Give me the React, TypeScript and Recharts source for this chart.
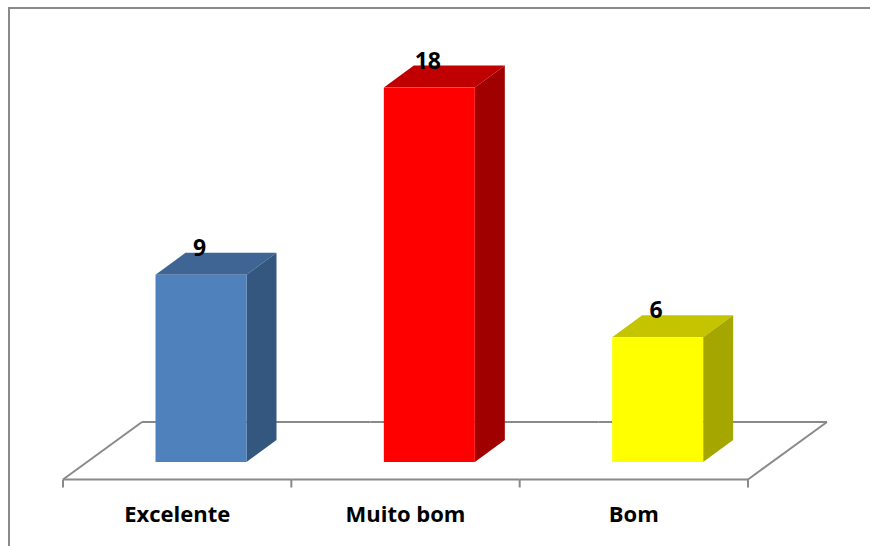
import React from "react";
import { BarChart, Bar, XAxis, YAxis, LabelList } from "recharts";

// Ratings and how many answers each one received
const categories = ["Excelente", "Muito bom", "Bom"];
const counts = [9, 18, 6];

const data = categories.map((name, i) => ({ name, value: counts[i] }));

// front / top / side shades for each box
const faceColors = [
  { front: "#4F81BD", top: "#3E6593", side: "#33577F" },
  { front: "#FF0000", top: "#C00000", side: "#A00000" },
  { front: "#FFFF00", top: "#C4C400", side: "#A6A600" },
];

const FONT = "'Open Sans', 'DejaVu Sans', sans-serif";
const LINE = "#8A8A8A";

const W = 870;
const H = 546;
const MARGIN = { top: 46, right: 122, bottom: 24, left: 63 };
const AXIS_H = 60;

// box depth in pixels and bar offset towards the middle of the floor
const DEPTH_X = 30;
const DEPTH_Y = -22;
const SHIFT_X = 23.5;

// floor depth
const FLOOR_X = 79;
const FLOOR_Y = -57.5;
const FLOOR_FRONT = 17.5;

const Box3D = (props: any) => {
  const { x, y, width, height, index } = props;
  if (height <= 0) return null;
  const c = faceColors[index % faceColors.length];
  const l = x + SHIFT_X;
  const r = l + width;
  const b = y + height;
  return (
    <g>
      <polygon
        points={`${l},${y} ${l + DEPTH_X},${y + DEPTH_Y} ${r + DEPTH_X},${y + DEPTH_Y} ${r},${y}`}
        fill={c.top}
      />
      <polygon
        points={`${r},${y} ${r + DEPTH_X},${y + DEPTH_Y} ${r + DEPTH_X},${b + DEPTH_Y} ${r},${b}`}
        fill={c.side}
      />
      <rect x={l} y={y} width={width} height={height} fill={c.front} />
    </g>
  );
};

const ValueLabel = (props: any) => {
  const { x, y, width, value } = props;
  return (
    <text
      x={x + SHIFT_X + width / 2 - 1.5}
      y={y - 19}
      textAnchor="middle"
      fontFamily={FONT}
      fontWeight={700}
      fontSize={23}
      fill="#000"
    >
      {value}
    </text>
  );
};

// each tick draws its slice of the floor plus the category name
const FloorTick = (props: any) => {
  const { x, y, payload, index, visibleTicksCount } = props;
  const hb = payload && payload.offset ? payload.offset : 114.17;
  const x0 = x - hb;
  const x1 = x + hb;
  const yf = y + FLOOR_FRONT;
  const yb = yf + FLOOR_Y;
  const last = index === visibleTicksCount - 1;
  return (
    <g>
      <line x1={x0} y1={yf} x2={x1} y2={yf} stroke={LINE} strokeWidth={2} />
      <line x1={x0 + FLOOR_X} y1={yb} x2={x1 + FLOOR_X} y2={yb} stroke={LINE} strokeWidth={2} />
      <line x1={x0} y1={yf} x2={x0} y2={yf + 8} stroke={LINE} strokeWidth={2} />
      {index === 0 && (
        <line x1={x0} y1={yf} x2={x0 + FLOOR_X} y2={yb} stroke={LINE} strokeWidth={2} />
      )}
      {last && (
        <>
          <line x1={x1} y1={yf} x2={x1} y2={yf + 8} stroke={LINE} strokeWidth={2} />
          <line x1={x1} y1={yf} x2={x1 + FLOOR_X} y2={yb} stroke={LINE} strokeWidth={2} />
        </>
      )}
      <text
        x={x}
        y={y + 60}
        textAnchor="middle"
        fontFamily={FONT}
        fontWeight={700}
        fontSize={22}
        fill="#000"
      >
        {payload.value}
      </text>
    </g>
  );
};

const layer: React.CSSProperties = { position: "absolute", left: 0, top: 0 };

export default function App() {
  return (
    <div style={{ position: "absolute", left: 0, top: 0, width: W, height: H, background: "#fff" }}>
      <svg width={W} height={H} style={layer}>
        <rect x={9} y={8} width={900} height={600} fill="none" stroke={LINE} strokeWidth={2} />
      </svg>
      {/* floor and category axis, underneath the boxes */}
      <div style={layer}>
        <BarChart width={W} height={H} data={data} margin={MARGIN} barSize={91}>
          <YAxis hide domain={[0, 20]} />
          <XAxis
            dataKey="name"
            height={AXIS_H}
            axisLine={false}
            tickLine={false}
            tickSize={0}
            tickMargin={0}
            interval={0}
            tick={<FloorTick />}
          />
        </BarChart>
      </div>
      {/* 3D boxes with their values */}
      <div style={layer}>
        <BarChart
          width={W}
          height={H}
          data={data}
          margin={{ ...MARGIN, bottom: MARGIN.bottom + AXIS_H }}
          barSize={91}
        >
          <YAxis hide domain={[0, 20]} />
          <XAxis dataKey="name" hide />
          <Bar dataKey="value" shape={<Box3D />} isAnimationActive={false}>
            <LabelList dataKey="value" content={<ValueLabel />} />
          </Bar>
        </BarChart>
      </div>
    </div>
  );
}
